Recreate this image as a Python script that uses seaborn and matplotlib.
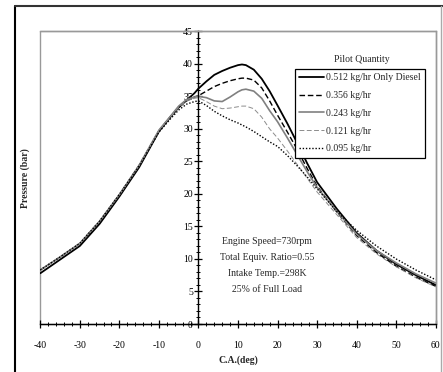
import numpy as np
import pandas as pd
import matplotlib
matplotlib.use("Agg")
import matplotlib.pyplot as plt
import seaborn as sns
from matplotlib.lines import Line2D
from matplotlib.patches import Rectangle
from matplotlib.ticker import MultipleLocator

# ---- data ----
ca = [-40, -35, -30, -25, -20, -15, -10, -7, -5, -3, -1, 0, 2, 4, 6, 8, 10, 11, 12, 14, 16, 18, 20, 22.5, 25, 27.5, 30, 35, 40, 45, 50, 55, 60]

p_0512 = [7.8, 9.9, 12.0, 15.4, 19.6, 24.1, 29.6, 31.9, 33.3, 34.4, 35.5, 36.2, 37.3, 38.3, 38.9, 39.4, 39.8, 39.9, 39.8, 39.1, 37.7, 35.8, 33.6, 30.8, 27.8, 24.7, 21.8, 17.7, 14.0, 11.3, 9.2, 7.5, 6.0]
p_0356 = [8.3, 10.3, 12.4, 15.8, 19.9, 24.4, 29.7, 31.9, 33.3, 34.3, 34.9, 35.1, 35.8, 36.5, 37.0, 37.4, 37.7, 37.8, 37.8, 37.5, 36.3, 34.3, 32.1, 29.5, 26.8, 23.9, 21.2, 17.2, 13.6, 11.0, 8.9, 7.2, 5.8]
p_0243 = [8.3, 10.3, 12.4, 15.8, 19.9, 24.4, 29.8, 32.0, 33.5, 34.5, 34.9, 35.0, 34.8, 34.3, 34.2, 34.9, 35.7, 36.0, 36.1, 35.8, 34.7, 32.8, 31.1, 28.6, 26.0, 23.4, 21.0, 17.3, 13.8, 11.3, 9.4, 7.7, 6.3]
p_0121 = [8.3, 10.3, 12.4, 15.8, 19.9, 24.4, 29.7, 31.9, 33.3, 34.3, 34.7, 34.8, 34.2, 33.5, 33.1, 33.2, 33.4, 33.5, 33.5, 33.1, 31.8, 30.0, 28.6, 26.6, 24.5, 22.4, 20.3, 16.8, 13.3, 10.8, 8.8, 7.1, 5.7]
p_0095 = [8.3, 10.3, 12.4, 15.8, 19.9, 24.3, 29.5, 31.6, 32.9, 33.8, 34.2, 34.3, 33.6, 32.7, 32.0, 31.4, 30.9, 30.6, 30.3, 29.6, 28.8, 28.0, 27.3, 25.9, 24.3, 22.6, 20.8, 17.3, 14.4, 12.0, 10.0, 8.3, 6.8]

labels = ["0.512 kg/hr Only Diesel", "0.356 kg/hr", "0.243 kg/hr", "0.121 kg/hr", "0.095 kg/hr"]
series = [p_0512, p_0356, p_0243, p_0121, p_0095]

x_ticks = [-40, -30, -20, -10, 0, 10, 20, 30, 40, 50, 60]
y_ticks = [0, 5, 10, 15, 20, 25, 30, 35, 40, 45]

notes = ["Engine Speed=730rpm", "Total Equiv. Ratio=0.55", "Intake Temp.=298K", "25% of Full Load"]

df = pd.DataFrame({
    "ca": np.tile(ca, len(series)),
    "p": np.concatenate(series),
    "s": np.repeat(labels, len(ca)),
})

# ---- style ----
sns.set_style("ticks")
plt.rcParams["font.family"] = ["Liberation Serif", "DejaVu Serif"]
plt.rcParams["font.size"] = 7
plt.rcParams["axes.unicode_minus"] = False
FS = 7

fig = plt.figure(figsize=(4.43, 3.72), dpi=100)
ax = fig.add_axes([40.3 / 443, 1 - 324 / 372, (435.7 - 40.3) / 443, (324 - 31.3) / 372])

colors = ["black", "black", "#808080", "#8c8c8c", "black"]
palette = dict(zip(labels, colors))
sns.lineplot(data=df, x="ca", y="p", hue="s", palette=palette, ax=ax, legend=False, sort=False)

styles = [dict(lw=1.3, ls="-"),
          dict(lw=1.0, ls=(0, (4, 2))),
          dict(lw=1.2, ls="-"),
          dict(lw=0.7, ls=(0, (5, 2.5))),
          dict(lw=1.0, ls=(0, (1, 1.3)))]
for line, st in zip(ax.get_lines(), styles):
    line.set_linewidth(st["lw"])
    line.set_linestyle(st["ls"])

ax.set_xlim(-40, 60)
ax.set_ylim(0, 45)
ax.set_xticks(x_ticks)
ax.set_yticks(y_ticks)
ax.xaxis.set_minor_locator(MultipleLocator(2))
ax.yaxis.set_minor_locator(MultipleLocator(1))

ax.spines["left"].set_position(("data", 0))
for sp in ["top", "right"]:
    ax.spines[sp].set_color("#999999")
    ax.spines[sp].set_linewidth(1.0)
ax.spines["left"].set_color("black")
ax.spines["bottom"].set_color("black")
ax.spines["left"].set_linewidth(1.0)
ax.spines["bottom"].set_linewidth(1.0)
ax.add_patch(Rectangle((0, 0), 1, 1, transform=ax.transAxes, fill=False,
                       edgecolor="#999999", lw=1.0, zorder=0, clip_on=False))

ax.tick_params(axis="both", which="major", direction="inout", length=6, width=0.9, colors="black", labelsize=FS)
ax.tick_params(axis="both", which="minor", direction="inout", length=3, width=0.7, colors="black")
ax.tick_params(axis="x", which="major", pad=9)
ax.tick_params(axis="y", which="major", pad=1)

ax.set_xlabel("C.A.(deg)", fontweight="bold", fontsize=FS, labelpad=4)
ax.set_ylabel("")
fig.text(25 / 443, 1 - 178 / 372, "Pressure (bar)", rotation=90, fontweight="bold",
         fontsize=FS, ha="center", va="center")

# annotation
for i, t in enumerate(notes):
    fig.text(267 / 443, 1 - (242 + i * 16) / 372, t, ha="center", va="center", fontsize=FS)

# legend
handles = [Line2D([], [], color=c, lw=st["lw"], ls=st["ls"]) for c, st in zip(colors, styles)]
leg = ax.legend(handles, labels, loc="upper right", bbox_to_anchor=(425 / 443, 1 - 69 / 372),
                bbox_transform=fig.transFigure, borderaxespad=0, frameon=True, fancybox=False,
                edgecolor="black", framealpha=1, fontsize=FS, handlelength=2.6, handletextpad=0.15,
                labelspacing=0.9, borderpad=0.45)
leg.get_frame().set_linewidth(0.9)
fig.text(362 / 443, 1 - 60 / 372, "Pilot Quantity", ha="center", va="center", fontsize=FS)

# outer frame
fig.add_artist(Line2D([15 / 443, 15 / 443], [0, 1 - 6 / 372], color="black", lw=1.5, transform=fig.transFigure))
fig.add_artist(Line2D([15 / 443, 1], [1 - 6 / 372, 1 - 6 / 372], color="#333333", lw=1.5, transform=fig.transFigure))
fig.add_artist(Line2D([441 / 443, 441 / 443], [0, 1 - 6 / 372], color="#aaaaaa", lw=1.0, transform=fig.transFigure))

fig.savefig("out.png", dpi=100)
